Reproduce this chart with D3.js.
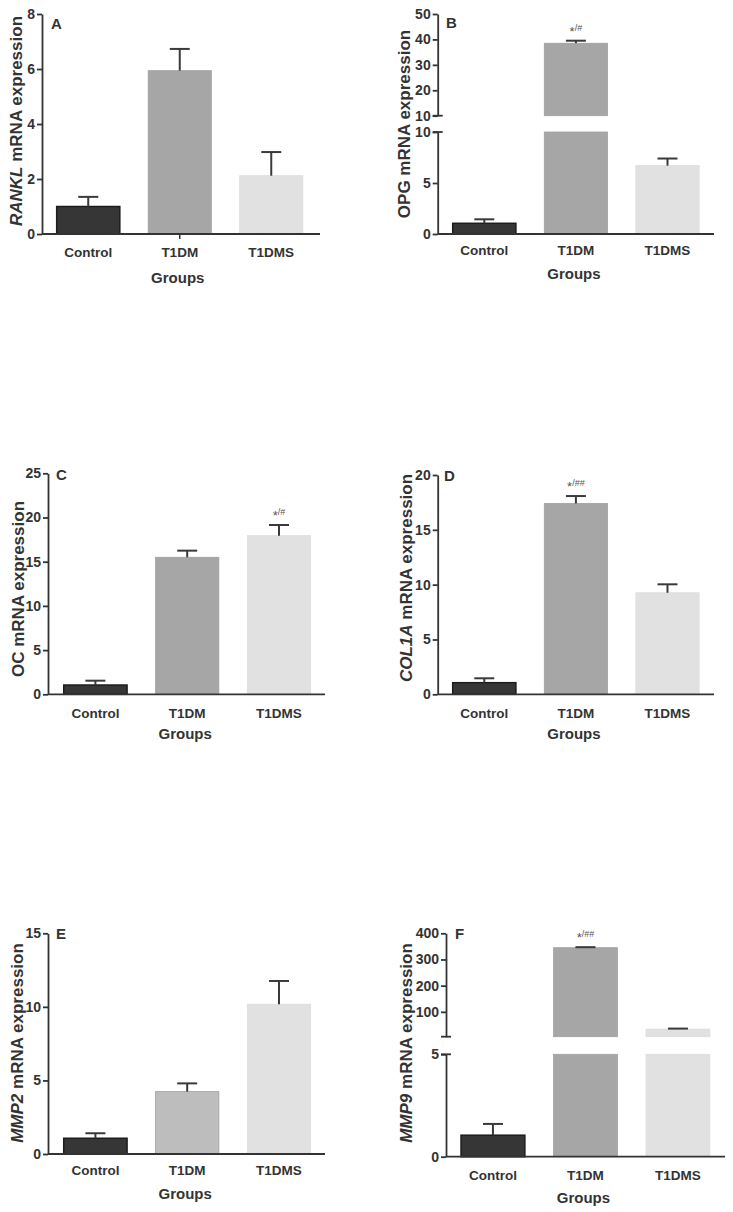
<!DOCTYPE html>
<html><head><meta charset="utf-8">
<script src="https://cdn.jsdelivr.net/npm/d3@7"></script>
<style>
body{margin:0;background:#fff}
svg{display:block}
text{font-family:"Liberation Sans",Arial,sans-serif;}
</style>
</head><body>
<svg id="c" width="733" height="1212"></svg>
<script>
// ---------- data ----------
const groups = ["Control", "T1DM", "T1DMS"];

const ranklMean = [1.0, 5.94, 2.12];
const ranklSem  = [0.35, 0.79, 0.86];
const ranklTicks = [0, 2, 4, 6, 8];

const opgMean = [1.05, 38.5, 6.7];
const opgSem  = [0.39, 1.0, 0.7];
const opgLowTicks = [0, 5, 10];
const opgHighTicks = [10, 20, 30, 40, 50];
const opgSig = ["", "*/#", ""];

const ocMean = [1.05, 15.5, 17.94];
const ocSem  = [0.49, 0.75, 1.21];
const ocTicks = [0, 5, 10, 15, 20, 25];
const ocSig = ["", "", "*/#"];

const col1aMean = [1.06, 17.4, 9.26];
const col1aSem  = [0.4, 0.68, 0.77];
const col1aTicks = [0, 5, 10, 15, 20];
const col1aSig = ["", "*/##", ""];

const mmp2Mean = [1.07, 4.24, 10.18];
const mmp2Sem  = [0.34, 0.56, 1.58];
const mmp2Ticks = [0, 5, 10, 15];

const mmp9Mean = [1.05, 345, 34];
const mmp9Sem  = [0.55, 2, 2];
const mmp9LowTicks = [0, 5];
const mmp9HighTicks = [100, 200, 300, 400];
const mmp9Sig = ["", "*/##", ""];

// ---------- styles ----------
const barFill = ["#363636", "#a6a6a6", "#e1e1e1"];
const barFillE = ["#363636", "#bdbdbd", "#e1e1e1"];
const barStroke = ["#1c1c1c", "#a0a0a0", "#dcdcdc"];
const ink = "#333";

const panels = [
  {letter:"A", gene:"RANKL", italic:true, mean:ranklMean, sem:ranklSem, sig:["","",""], fills:barFill,
   ox:42, xEnd:320, r0:42.5, step:91.5, lx:51, ly:29, tx:16, ty:121, catY:257, grpY:283, midTick:true,
   segs:[{d:[0,8], r:[234,14], ticks:ranklTicks}]},
  {letter:"B", gene:"OPG", italic:false, mean:opgMean, sem:opgSem, sig:opgSig, fills:barFill,
   ox:437.7, xEnd:714, r0:438.5, step:91.6, lx:446, ly:28, tx:404, ty:124, catY:255, grpY:279,
   segs:[{d:[0,10], r:[234,132], ticks:opgLowTicks, topBreak:true},
         {d:[10,50], r:[115.7,14], ticks:opgHighTicks, botBreak:true}]},
  {letter:"C", gene:"OC", italic:false, mean:ocMean, sem:ocSem, sig:ocSig, fills:barFill,
   ox:48, xEnd:325, r0:49.5, step:91.8, lx:56, ly:480, tx:18, ty:589, catY:718, grpY:739,
   segs:[{d:[0,25], r:[694.3,473.3], ticks:ocTicks}]},
  {letter:"D", gene:"COL1A", italic:true, mean:col1aMean, sem:col1aSem, sig:col1aSig, fills:barFill,
   ox:437.7, xEnd:714, r0:438.5, step:91.6, lx:444, ly:481, tx:406, ty:578, catY:718, grpY:739,
   segs:[{d:[0,20], r:[694.3,475], ticks:col1aTicks}]},
  {letter:"E", gene:"MMP2", italic:true, mean:mmp2Mean, sem:mmp2Sem, sig:["","",""], fills:barFillE,
   ox:48, xEnd:325, r0:49.5, step:91.8, lx:56, ly:939, tx:17, ty:1043, catY:1175, grpY:1199,
   segs:[{d:[0,15], r:[1154,933.3], ticks:mmp2Ticks}]},
  {letter:"F", gene:"MMP9", italic:true, mean:mmp9Mean, sem:mmp9Sem, sig:mmp9Sig, fills:barFill,
   ox:446, xEnd:725, r0:446.7, step:92.5, lx:455, ly:939, tx:406, ty:1043, catY:1180, grpY:1203,
   segs:[{d:[0,5], r:[1156.7,1054.3], ticks:mmp9LowTicks, topBreak:true},
         {d:[5,400], r:[1036.7,933.3], ticks:mmp9HighTicks, botBreak:true}]}
];

const svg = d3.select("#c");

panels.forEach(p => {
  const g = svg.append("g");
  const x = d3.scaleBand().domain(groups)
    .range([p.r0, p.r0 + 3 * p.step]).paddingInner(0.31).paddingOuter(0.155);
  const data = groups.map((k, i) => ({k, v:p.mean[i], e:p.sem[i], s:p.sig[i], i}));

  p.segs.forEach(seg => {
    const y = d3.scaleLinear().domain(seg.d).range(seg.r);
    // bars
    data.forEach(d => {
      if (d.v <= seg.d[0]) return;
      const top = Math.min(d.v, seg.d[1]);
      g.append("rect")
        .attr("x", x(d.k)).attr("width", x.bandwidth())
        .attr("y", y(top)).attr("height", y(seg.d[0]) - y(top))
        .attr("fill", p.fills[d.i])
        .attr("stroke", barStroke[d.i]).attr("stroke-width", d.i === 0 ? 1.5 : 0.8);
      if (d.v > seg.d[0] && d.v <= seg.d[1]) {
        const cx = x(d.k) + x.bandwidth() / 2;
        const yt = y(d.v + d.e);
        g.append("line").attr("x1", cx).attr("x2", cx)
          .attr("y1", y(d.v)).attr("y2", yt)
          .attr("stroke", "#3a3a3a").attr("stroke-width", 2);
        g.append("line").attr("x1", cx - 10).attr("x2", cx + 10)
          .attr("y1", yt).attr("y2", yt)
          .attr("stroke", "#3a3a3a").attr("stroke-width", 2);
        if (d.s) {
          const t = g.append("text").attr("x", cx).attr("y", yt - 8)
            .attr("text-anchor", "middle").attr("fill", "#555");
          t.append("tspan").text(d.s[0]).attr("font-size", 13).attr("dy", 3);
          t.append("tspan").text(d.s.slice(1)).attr("font-size", 9).attr("dy", -5);
        }
      }
    });
    // y axis
    const ax = g.append("g").attr("transform", `translate(${p.ox},0)`)
      .call(d3.axisLeft(y).tickValues(seg.ticks).tickFormat(d3.format("d"))
        .tickSize(5).tickSizeOuter(0).tickPadding(2));
    ax.select(".domain").attr("stroke", ink).attr("stroke-width", 1.8);
    ax.selectAll(".tick line").attr("stroke", ink).attr("stroke-width", 1.8);
    ax.selectAll(".tick text").attr("fill", ink).attr("font-size", 14)
      .attr("font-weight", "bold").style("font-family", '"Liberation Sans",Arial,sans-serif');
    if (seg.topBreak) {
      g.append("line").attr("x1", p.ox - 5).attr("x2", p.ox + 5)
        .attr("y1", seg.r[1]).attr("y2", seg.r[1]).attr("stroke", ink).attr("stroke-width", 1.8);
    }
    if (seg.botBreak) {
      g.append("line").attr("x1", p.ox - 5).attr("x2", p.ox + 5)
        .attr("y1", seg.r[0]).attr("y2", seg.r[0]).attr("stroke", ink).attr("stroke-width", 1.8);
    }
  });

  // x axis
  const y0 = p.segs[0].r[0];
  g.append("line").attr("x1", p.ox).attr("x2", p.xEnd).attr("y1", y0).attr("y2", y0)
    .attr("stroke", ink).attr("stroke-width", 1.8);
  if (p.midTick) {
    const cx = x("T1DM") + x.bandwidth() / 2;
    g.append("line").attr("x1", cx).attr("x2", cx).attr("y1", y0).attr("y2", y0 + 5)
      .attr("stroke", ink).attr("stroke-width", 1.5);
  }
  // category labels
  groups.forEach(k => {
    g.append("text").attr("x", x(k) + x.bandwidth() / 2).attr("y", p.catY)
      .attr("text-anchor", "middle").attr("font-size", 13.5).attr("font-weight", "bold")
      .attr("fill", ink).text(k);
  });
  g.append("text").attr("x", x("T1DM") + x.bandwidth() / 2 - 2).attr("y", p.grpY)
    .attr("text-anchor", "middle").attr("font-size", 15).attr("font-weight", "bold")
    .attr("fill", ink).text("Groups");
  // panel letter
  g.append("text").attr("x", p.lx).attr("y", p.ly).attr("font-size", 15).attr("font-weight", "bold")
    .attr("fill", ink).text(p.letter);
  // y title
  const tt = g.append("text").attr("transform", `translate(${p.tx},${p.ty}) rotate(-90)`)
    .attr("text-anchor", "middle").attr("dy", "0.35em").attr("font-size", 17)
    .attr("font-weight", "bold").attr("fill", ink);
  tt.append("tspan").text(p.gene).attr("font-style", p.italic ? "italic" : "normal");
  tt.append("tspan").text(" mRNA expression");
});
</script>
</body></html>
